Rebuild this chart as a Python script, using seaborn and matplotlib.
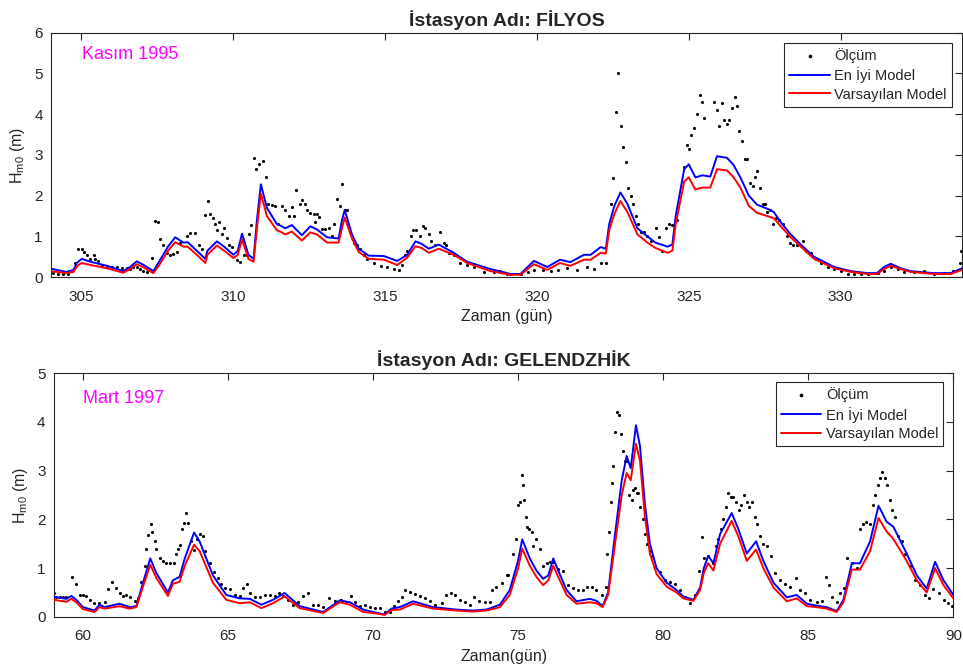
import numpy as np
import pandas as pd
import matplotlib
matplotlib.use("Agg")
import matplotlib.pyplot as plt
import seaborn as sns

# ---------------- Top panel data (FİLYOS, Kasım 1995) ----------------
top_model_t = [304.0, 304.5, 304.74, 304.85, 305.01, 305.3, 305.84, 306.38, 306.6, 306.82, 307.05, 307.37,
               307.59, 307.85, 308.09, 308.36, 308.5, 308.8, 309.08, 309.15, 309.46, 309.7, 310.01, 310.15,
               310.29, 310.5, 310.67, 310.78, 310.91, 311.11, 311.44, 311.55, 311.71, 311.93, 312.26, 312.54,
               312.76, 313.09, 313.47, 313.58, 313.67, 313.91, 314.13, 314.46, 314.96, 315.4, 315.73, 316.0,
               316.2, 316.44, 316.77, 317.26, 317.7, 318.47, 319.13, 319.46, 319.9, 320.34, 320.76, 321.1,
               321.55, 321.77, 322.1, 322.27, 322.38, 322.55, 322.75, 322.98, 323.31, 323.64, 323.9, 324.3,
               324.46, 324.57, 324.85, 325.0, 325.22, 325.44, 325.71, 325.93, 326.26, 326.48, 326.7, 326.98,
               327.25, 327.59, 327.8, 328.03, 328.36, 328.69, 329.13, 329.79, 330.34, 330.88, 331.2, 331.43,
               331.65, 331.98, 332.3, 333.07, 333.63, 334.0]
top_best = [0.21, 0.13, 0.18, 0.35, 0.45, 0.38, 0.28, 0.15, 0.25, 0.39, 0.3, 0.15,
            0.42, 0.75, 0.98, 0.85, 0.86, 0.65, 0.45, 0.65, 0.88, 0.75, 0.55, 0.65,
            1.07, 0.55, 0.45, 1.4, 2.28, 1.7, 1.3, 1.27, 1.2, 1.28, 1.03, 1.25,
            1.17, 0.98, 0.95, 1.4, 1.65, 1.05, 0.7, 0.53, 0.52, 0.4, 0.55, 0.88,
            0.82, 0.7, 0.8, 0.6, 0.38, 0.2, 0.08, 0.08, 0.4, 0.25, 0.43, 0.37,
            0.55, 0.55, 0.74, 0.7, 1.3, 1.75, 2.08, 1.8, 1.2, 1.0, 0.85, 0.75,
            0.8, 1.5, 2.65, 2.77, 2.45, 2.5, 2.47, 2.97, 2.93, 2.75, 2.45, 2.0,
            1.78, 1.68, 1.6, 1.35, 1.05, 0.8, 0.5, 0.25, 0.15, 0.1, 0.1, 0.25,
            0.33, 0.22, 0.15, 0.1, 0.1, 0.22]
top_default = [0.15, 0.1, 0.13, 0.27, 0.35, 0.3, 0.22, 0.11, 0.2, 0.32, 0.24, 0.1,
               0.33, 0.65, 0.86, 0.75, 0.75, 0.55, 0.35, 0.55, 0.78, 0.65, 0.47, 0.55,
               0.93, 0.45, 0.38, 1.2, 2.05, 1.5, 1.15, 1.12, 1.05, 1.12, 0.9, 1.1,
               1.05, 0.85, 0.85, 1.2, 1.47, 0.95, 0.62, 0.45, 0.43, 0.3, 0.48, 0.76,
               0.72, 0.6, 0.7, 0.55, 0.35, 0.15, 0.06, 0.06, 0.32, 0.18, 0.35, 0.28,
               0.43, 0.43, 0.6, 0.58, 1.15, 1.55, 1.87, 1.6, 1.05, 0.85, 0.72, 0.6,
               0.65, 1.3, 2.35, 2.45, 2.15, 2.2, 2.2, 2.65, 2.62, 2.45, 2.2, 1.75,
               1.58, 1.5, 1.45, 1.25, 0.98, 0.75, 0.45, 0.22, 0.13, 0.08, 0.08, 0.2,
               0.28, 0.2, 0.13, 0.08, 0.08, 0.18]
top_obs_t = [304.08, 304.24, 304.41, 304.57, 304.68, 304.79, 304.90, 305.01, 305.10, 305.18, 305.29, 305.40,
             305.45, 305.56, 305.67, 305.84, 306.0, 306.16, 306.33, 306.49, 306.60, 306.71, 306.82, 306.93,
             307.04, 307.15, 307.32, 307.43, 307.51, 307.59, 307.70, 307.81, 307.92, 308.03, 308.14, 308.25,
             308.47, 308.58, 308.75, 308.86, 308.97, 309.08, 309.16, 309.25, 309.33, 309.41, 309.46, 309.52,
             309.63, 309.68, 309.79, 309.87, 309.96, 310.12, 310.23, 310.34, 310.45, 310.51, 310.58, 310.67,
             310.76, 310.84, 310.98, 311.09, 311.16, 311.27, 311.38, 311.49, 311.60, 311.71, 311.82, 311.93,
             312.01, 312.08, 312.19, 312.26, 312.37, 312.43, 312.54, 312.65, 312.70, 312.76, 312.84, 312.92,
             313.03, 313.14, 313.25, 313.33, 313.42, 313.51, 313.58, 313.67, 313.75, 313.86, 313.97, 314.08,
             314.19, 314.30, 314.41, 314.63, 314.85, 315.07, 315.29, 315.45, 315.56, 315.67, 315.73, 315.84,
             315.92, 316.03, 316.14, 316.25, 316.33, 316.44, 316.52, 316.66, 316.82, 316.93, 316.99, 317.10,
             317.26, 317.48, 317.70, 317.92, 318.25, 318.58, 318.80, 319.02, 319.13, 319.46, 319.70, 319.90,
             320.20, 320.45, 320.70, 321.0, 321.33, 321.66, 321.88, 322.10, 322.26, 322.43, 322.51, 322.59,
             322.67, 322.76, 322.84, 322.92, 323.01, 323.09, 323.17, 323.25, 323.33, 323.42, 323.53, 323.64,
             323.75, 323.91, 324.02, 324.13, 324.26, 324.35, 324.46, 324.51, 324.60, 324.84, 324.93, 325.01,
             325.09, 325.17, 325.26, 325.36, 325.43, 325.50, 325.83, 325.92, 326.01, 326.09, 326.16, 326.25,
             326.34, 326.42, 326.51, 326.60, 326.67, 326.77, 326.85, 326.93, 327.02, 327.10, 327.17, 327.26,
             327.35, 327.43, 327.50, 327.59, 327.68, 327.77, 327.87, 327.98, 328.09, 328.23, 328.34, 328.42,
             328.58, 328.75, 328.85, 329.02, 329.18, 329.35, 329.57, 329.79, 330.01, 330.23, 330.45, 330.67,
             330.89, 331.22, 331.44, 331.66, 331.88, 332.10, 332.43, 332.76, 333.09, 333.42, 333.69, 333.94,
             333.98]
top_obs = [0.1, 0.08, 0.07, 0.08, 0.15, 0.35, 0.7, 0.7, 0.62, 0.55, 0.45, 0.55,
           0.45, 0.4, 0.3, 0.27, 0.26, 0.25, 0.23, 0.22, 0.2, 0.25, 0.25, 0.2,
           0.15, 0.12, 0.48, 1.37, 1.35, 0.95, 0.8, 0.6, 0.55, 0.58, 0.62, 0.85,
           1.02, 1.08, 1.08, 0.78, 0.7, 1.52, 1.87, 1.55, 1.45, 1.3, 1.17, 1.35,
           1.05, 1.2, 0.97, 0.8, 0.75, 0.43, 0.37, 0.55, 0.55, 1.05, 1.28, 2.93,
           2.65, 2.77, 2.84, 2.45, 1.8, 1.78, 1.75, 1.3, 1.75, 1.65, 1.5, 1.72,
           1.5, 2.15, 1.8, 1.9, 1.8, 1.65, 1.58, 1.55, 1.35, 1.55, 1.48, 1.18,
           1.18, 1.2, 1.0, 1.3, 1.92, 1.75, 2.28, 1.65, 1.65, 1.1, 0.85, 0.8,
           0.7, 0.55, 0.45, 0.35, 0.28, 0.25, 0.2, 0.18, 0.3, 0.55, 0.65, 1.0,
           1.15, 1.15, 1.0, 1.25, 1.2, 1.05, 0.9, 0.8, 1.12, 0.85, 0.8, 0.6,
           0.55, 0.35, 0.3, 0.25, 0.12, 0.12, 0.15, 0.07, 0.08, 0.08, 0.12, 0.18,
           0.17, 0.15, 0.17, 0.22, 0.17, 0.25, 0.2, 0.35, 0.35, 1.8, 2.43, 4.06,
           5.0, 3.7, 3.2, 2.83, 2.2, 2.0, 1.8, 1.5, 1.3, 1.1, 1.1, 1.0,
           0.9, 1.2, 0.98, 0.65, 1.22, 1.3, 1.27, 1.28, 1.4, 2.7, 3.25, 3.15,
           3.5, 3.65, 4.0, 4.48, 4.3, 3.9, 4.3, 4.1, 3.7, 4.27, 3.85, 3.75,
           3.85, 4.15, 4.43, 4.2, 3.6, 3.35, 2.9, 2.9, 2.3, 2.25, 2.45, 2.6,
           2.2, 1.8, 1.8, 1.6, 1.65, 1.3, 1.45, 1.4, 1.3, 1.0, 0.85, 0.78,
           0.8, 0.9, 0.65, 0.6, 0.45, 0.35, 0.25, 0.2, 0.15, 0.08, 0.07, 0.07,
           0.08, 0.1, 0.15, 0.25, 0.2, 0.12, 0.12, 0.15, 0.08, 0.1, 0.15, 0.35,
           0.65]

# ---------------- Bottom panel data (GELENDZHİK, Mart 1997) ----------------
bot_model_t = [59.0, 59.43, 59.6, 59.77, 60.0, 60.4, 60.57, 60.75, 61.26, 61.61, 61.84, 62.07,
               62.32, 62.53, 62.93, 63.1, 63.33, 63.51, 63.83, 64.02, 64.48, 64.94, 65.4, 65.75,
               66.15, 66.55, 66.95, 67.47, 68.28, 68.85, 69.2, 69.66, 70.0, 70.4, 70.63, 70.92,
               71.38, 72.07, 72.87, 73.45, 73.91, 74.37, 74.71, 75.0, 75.14, 75.4, 75.63, 75.86,
               76.04, 76.21, 76.38, 76.67, 77.01, 77.47, 77.7, 77.91, 78.1, 78.34, 78.57, 78.74,
               78.88, 79.06, 79.2, 79.37, 79.54, 79.77, 80.12, 80.46, 80.69, 81.04, 81.27, 81.4,
               81.55, 81.73, 81.96, 82.36, 82.59, 82.88, 83.2, 83.45, 83.8, 84.26, 84.6, 84.95,
               85.29, 85.63, 85.98, 86.21, 86.5, 86.78, 87.13, 87.42, 87.7, 87.93, 88.39, 88.74,
               89.08, 89.37, 89.66, 90.0]
bot_best = [0.41, 0.37, 0.43, 0.35, 0.2, 0.13, 0.25, 0.2, 0.27, 0.2, 0.22, 0.7,
            1.2, 0.9, 0.5, 0.75, 0.82, 1.2, 1.73, 1.55, 0.85, 0.45, 0.38, 0.37,
            0.25, 0.35, 0.49, 0.22, 0.1, 0.34, 0.3, 0.15, 0.1, 0.05, 0.17, 0.2,
            0.32, 0.2, 0.15, 0.13, 0.15, 0.25, 0.55, 1.16, 1.59, 1.2, 0.95, 0.78,
            0.85, 1.2, 0.95, 0.55, 0.32, 0.37, 0.33, 0.22, 0.5, 1.7, 2.8, 3.3,
            3.05, 3.93, 3.5, 2.3, 1.5, 1.0, 0.7, 0.55, 0.42, 0.35, 0.6, 1.0,
            1.25, 1.1, 1.7, 2.13, 1.8, 1.3, 1.55, 1.15, 0.7, 0.4, 0.45, 0.27,
            0.23, 0.2, 0.12, 0.35, 1.1, 1.1, 1.55, 2.28, 1.95, 1.85, 1.3, 0.85,
            0.58, 1.13, 0.75, 0.45]
bot_default = [0.35, 0.31, 0.37, 0.3, 0.16, 0.1, 0.2, 0.17, 0.22, 0.17, 0.2, 0.62,
               1.07, 0.8, 0.43, 0.68, 0.72, 1.05, 1.48, 1.35, 0.7, 0.35, 0.28, 0.3,
               0.18, 0.28, 0.42, 0.18, 0.08, 0.3, 0.25, 0.1, 0.08, 0.04, 0.14, 0.15,
               0.27, 0.17, 0.13, 0.11, 0.13, 0.2, 0.45, 1.0, 1.4, 1.05, 0.82, 0.65,
               0.75, 1.05, 0.82, 0.45, 0.27, 0.3, 0.28, 0.2, 0.45, 1.5, 2.5, 2.95,
               2.8, 3.55, 3.2, 2.05, 1.3, 0.88, 0.62, 0.5, 0.38, 0.33, 0.55, 0.9,
               1.1, 0.95, 1.5, 1.97, 1.65, 1.15, 1.38, 1.0, 0.6, 0.32, 0.38, 0.22,
               0.2, 0.17, 0.1, 0.3, 0.97, 0.97, 1.35, 2.03, 1.75, 1.6, 1.15, 0.75,
               0.5, 1.0, 0.65, 0.38]
bot_obs_t = [59.0, 59.08, 59.2, 59.31, 59.43, 59.62, 59.75, 59.89, 60.0, 60.11, 60.23, 60.37,
             60.57, 60.75, 60.86, 60.99, 61.13, 61.26, 61.38, 61.49, 61.63, 61.78, 61.9, 62.01,
             62.13, 62.18, 62.25, 62.33, 62.39, 62.47, 62.53, 62.64, 62.76, 62.87, 63.01, 63.13,
             63.22, 63.29, 63.36, 63.43, 63.48, 63.54, 63.61, 63.74, 63.82, 63.93, 64.05, 64.14,
             64.22, 64.37, 64.51, 64.66, 64.77, 64.89, 65.06, 65.23, 65.4, 65.52, 65.66, 65.77,
             65.92, 66.09, 66.26, 66.44, 66.61, 66.76, 66.9, 67.07, 67.24, 67.41, 67.59, 67.76,
             67.93, 68.1, 68.28, 68.48, 68.68, 68.91, 69.08, 69.23, 69.37, 69.54, 69.71, 69.89,
             70.06, 70.23, 70.4, 70.57, 70.71, 70.86, 70.98, 71.11, 71.26, 71.43, 71.61, 71.78,
             71.95, 72.13, 72.36, 72.51, 72.67, 72.82, 72.99, 73.17, 73.33, 73.48, 73.66, 73.86,
             74.03, 74.11, 74.25, 74.43, 74.6, 74.66, 74.83, 74.92, 75.0, 75.06, 75.12, 75.15,
             75.2, 75.26, 75.31, 75.38, 75.46, 75.52, 75.63, 75.75, 75.86, 75.98, 76.09, 76.21,
             76.38, 76.55, 76.73, 76.9, 77.07, 77.24, 77.38, 77.53, 77.7, 77.88, 78.03, 78.07,
             78.14, 78.2, 78.24, 78.28, 78.34, 78.39, 78.47, 78.53, 78.6, 78.68, 78.76, 78.83,
             78.91, 78.97, 79.03, 79.08, 79.14, 79.2, 79.29, 79.37, 79.45, 79.54, 79.63, 79.71,
             79.89, 80.06, 80.23, 80.4, 80.58, 80.75, 80.92, 81.09, 81.23, 81.32, 81.4, 81.55,
             81.73, 81.82, 81.9, 81.98, 82.07, 82.16, 82.24, 82.32, 82.42, 82.51, 82.6, 82.69,
             82.78, 82.88, 82.97, 83.06, 83.15, 83.22, 83.34, 83.45, 83.57, 83.7, 83.85, 84.03,
             84.2, 84.37, 84.58, 84.71, 84.89, 85.06, 85.29, 85.46, 85.6, 85.72, 85.83, 85.98,
             86.1, 86.23, 86.35, 86.5, 86.67, 86.78, 86.88, 86.99, 87.13, 87.22, 87.3, 87.39,
             87.47, 87.55, 87.65, 87.7, 87.8, 87.89, 87.99, 88.1, 88.22, 88.34, 88.51, 88.68,
             88.85, 89.02, 89.17, 89.31, 89.49, 89.66, 89.83, 89.94]
bot_obs = [0.5, 0.4, 0.4, 0.4, 0.4, 0.82, 0.68, 0.45, 0.45, 0.42, 0.35, 0.28,
           0.28, 0.3, 0.58, 0.72, 0.6, 0.48, 0.42, 0.45, 0.4, 0.32, 0.38, 0.72,
           1.05, 1.4, 1.67, 1.9, 1.75, 1.55, 1.4, 1.2, 1.15, 1.1, 1.1, 1.1,
           1.3, 1.4, 1.48, 1.8, 1.93, 2.13, 1.93, 1.55, 1.38, 1.6, 1.7, 1.65,
           1.35, 1.1, 0.92, 0.8, 0.68, 0.6, 0.58, 0.45, 0.42, 0.6, 0.68, 0.48,
           0.4, 0.4, 0.45, 0.45, 0.43, 0.5, 0.43, 0.35, 0.25, 0.3, 0.42, 0.48,
           0.25, 0.25, 0.2, 0.38, 0.33, 0.35, 0.3, 0.42, 0.3, 0.23, 0.25, 0.2,
           0.18, 0.18, 0.1, 0.1, 0.22, 0.32, 0.4, 0.55, 0.52, 0.47, 0.42, 0.38,
           0.33, 0.25, 0.28, 0.45, 0.48, 0.45, 0.35, 0.3, 0.25, 0.4, 0.33, 0.3,
           0.3, 0.55, 0.62, 0.7, 0.85, 0.85, 1.3, 1.6, 2.3, 2.35, 2.9, 2.7,
           2.4, 2.05, 1.85, 1.8, 1.75, 1.45, 1.6, 1.4, 1.05, 1.1, 1.13, 1.13,
           0.98, 0.95, 0.65, 0.6, 0.55, 0.55, 0.62, 0.62, 0.55, 0.45, 0.62, 1.3,
           1.75, 2.35, 2.75, 3.1, 3.8, 4.2, 4.15, 3.75, 3.4, 3.2, 3.2, 2.5,
           2.4, 2.6, 2.65, 2.55, 2.55, 2.25, 2.0, 1.7, 1.5, 1.35, 1.25, 1.05,
           0.92, 0.75, 0.72, 0.68, 0.55, 0.4, 0.28, 0.45, 0.95, 1.64, 1.2, 1.25,
           1.1, 1.45, 1.6, 1.8, 2.0, 2.25, 2.55, 2.45, 2.45, 2.35, 2.2, 2.3,
           2.5, 2.35, 2.25, 2.35, 2.05, 1.9, 1.65, 1.5, 1.45, 1.25, 0.9, 0.75,
           0.68, 0.62, 0.8, 0.55, 0.48, 0.35, 0.3, 0.32, 0.82, 0.65, 0.4, 0.3,
           0.5, 0.6, 1.2, 1.1, 1.0, 1.8, 1.9, 1.95, 1.9, 2.3, 2.5, 2.7,
           2.85, 2.97, 2.85, 2.7, 2.4, 2.2, 2.05, 1.65, 1.55, 1.3, 1.05, 0.75,
           0.65, 0.45, 0.38, 0.58, 0.48, 0.35, 0.28, 0.22]

labels = ["Ölçüm", "En İyi Model", "Varsayılan Model"]

sns.set_theme(style="white")
plt.rcParams['font.family'] = ['Liberation Sans', 'DejaVu Sans']

fig = plt.figure(figsize=(9.63, 6.68), dpi=100)
ax1 = fig.add_axes([0.053, 0.585, 0.946, 0.366])
ax2 = fig.add_axes([0.056, 0.0765, 0.934, 0.365])

panels = [
    (ax1, top_obs_t, top_obs, top_model_t, top_best, top_default, (304, 334), (0, 6),
     [305, 310, 315, 320, 325, 330], range(0, 7), "İstasyon Adı: FİLYOS", "Zaman (gün)",
     "Kasım 1995", (0.034, 0.91), (0.989, 0.959)),
    (ax2, bot_obs_t, bot_obs, bot_model_t, bot_best, bot_default, (59, 90), (0, 5),
     [60, 65, 70, 75, 80, 85, 90], range(0, 6), "İstasyon Adı: GELENDZHİK", "Zaman(gün)",
     "Mart 1997", (0.032, 0.895), (0.989, 0.963)),
]

for (ax, ot, ov, mt, bv, dv, xl, yl, xt, yt, title, xlab, note, npos, lpos) in panels:
    sns.scatterplot(x=ot, y=ov, ax=ax, color="black", s=5, marker="o", linewidth=0,
                    label=labels[0], zorder=2)
    sns.lineplot(x=mt, y=bv, ax=ax, color="#0000FF", lw=1.4, label=labels[1], zorder=3)
    sns.lineplot(x=mt, y=dv, ax=ax, color="#FF0000", lw=1.4, label=labels[2], zorder=3)
    ax.set_xlim(*xl)
    ax.set_ylim(*yl)
    ax.set_xticks(xt)
    ax.set_yticks(list(yt))
    ax.tick_params(direction="in", top=True, right=True, length=5, width=0.8,
                   labelsize=11, colors="#262626")
    ax.tick_params(axis="x", pad=9)
    ax.tick_params(axis="y", pad=6)
    for sp in ax.spines.values():
        sp.set_color("#262626")
        sp.set_linewidth(0.8)
    ax.set_title(title, fontsize=14, fontweight="bold", pad=5)
    ax.set_xlabel(xlab, fontsize=11.5, labelpad=4)
    ax.set_ylabel("H$_{\\mathregular{m0}}$ (m)", fontsize=11.5, labelpad=5)
    ax.text(npos[0], npos[1], note, transform=ax.transAxes, color="#FF00FF",
            fontsize=13, va="center", ha="left")
    leg = ax.legend(loc="upper right", bbox_to_anchor=lpos, borderaxespad=0, fontsize=10.5,
                    frameon=True, fancybox=False, framealpha=1, edgecolor="#262626",
                    handlelength=2.8, borderpad=0.35, labelspacing=0.3, handletextpad=0.3,
                    markerscale=1.2)
    leg.get_frame().set_linewidth(0.8)

fig.savefig("out.png", dpi=100)
